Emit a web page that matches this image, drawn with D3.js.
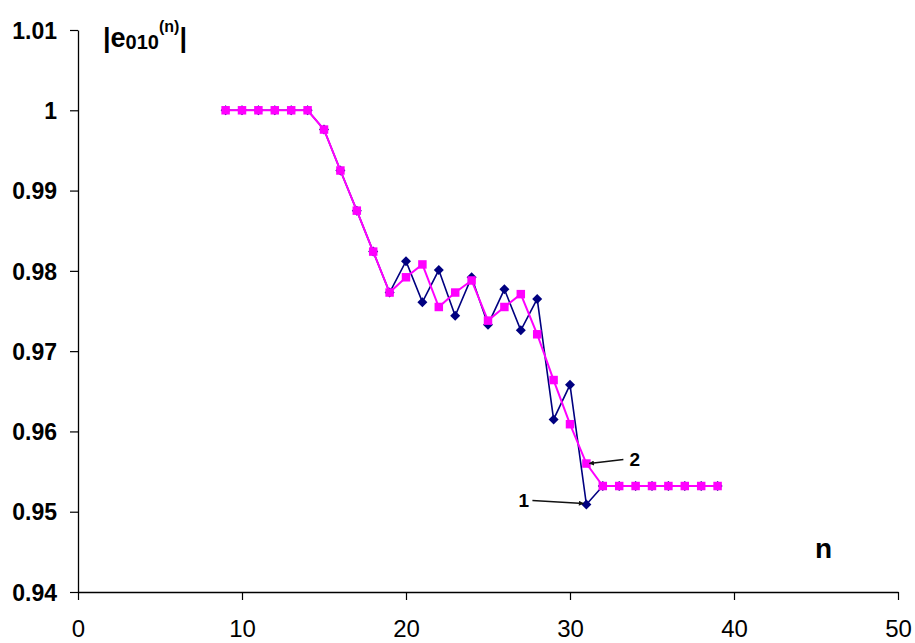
<!DOCTYPE html>
<html>
<head>
<meta charset="utf-8">
<script src="https://cdn.jsdelivr.net/npm/d3@7"></script>
<style>
  html, body { margin: 0; padding: 0; background: #fff; }
  svg { display: block; font-family: "Liberation Sans", Arial, sans-serif; }
</style>
</head>
<body>
<svg id="chart" width="915" height="643"></svg>
<script>
// Iteration index n
const nValues = [9, 10, 11, 12, 13, 14, 15, 16, 17, 18, 19, 20, 21, 22, 23, 24, 25, 26, 27, 28, 29, 30, 31, 32, 33, 34, 35, 36, 37, 38, 39];
// Curve 1 (navy diamonds)
const series1 = [1.0000, 1.0000, 1.0000, 1.0000, 1.0000, 1.0000, 0.9976, 0.9925, 0.9875, 0.9824, 0.9773, 0.9812, 0.9761, 0.9801, 0.9744, 0.9792, 0.9733, 0.9777, 0.9726, 0.9765, 0.9615, 0.9658, 0.9509, 0.9532, 0.9532, 0.9532, 0.9532, 0.9532, 0.9532, 0.9532, 0.9532];
// Curve 2 (magenta squares)
const series2 = [1.0000, 1.0000, 1.0000, 1.0000, 1.0000, 1.0000, 0.9976, 0.9925, 0.9875, 0.9824, 0.9773, 0.9792, 0.9808, 0.9755, 0.9773, 0.9788, 0.9738, 0.9755, 0.9771, 0.9721, 0.9664, 0.9609, 0.9560, 0.9532, 0.9532, 0.9532, 0.9532, 0.9532, 0.9532, 0.9532, 0.9532];
// Axis ticks
const xTicks = [0, 10, 20, 30, 40, 50];
const yTicks = [0.94, 0.95, 0.96, 0.97, 0.98, 0.99, 1.00, 1.01];
const yTickLabels = ["0.94", "0.95", "0.96", "0.97", "0.98", "0.99", "1", "1.01"];

const svg = d3.select("#chart");
const x = d3.scaleLinear().domain([0, 50]).range([78, 898]);
const y = d3.scaleLinear().domain([0.94, 1.01]).range([592, 30]);

// y axis
const yAxis = d3.axisLeft(y)
  .tickValues(yTicks)
  .tickSize(8)
  .tickSizeOuter(0)
  .tickPadding(13)
  .tickFormat((d, i) => yTickLabels[i]);
const gy = svg.append("g").attr("transform", `translate(${x(0)},0)`).call(yAxis);
gy.select(".domain").attr("stroke", "#000").attr("stroke-width", 1.3);
gy.selectAll(".tick line").attr("stroke", "#000").attr("stroke-width", 1.2);
gy.selectAll(".tick text")
  .attr("fill", "#000")
  .style("font-size", "23px")
  .style("font-weight", "bold")
  .attr("dy", "0.36em");

// x axis
const xAxis = d3.axisBottom(x)
  .tickValues(xTicks)
  .tickSize(8)
  .tickSizeOuter(0)
  .tickFormat(d3.format("d"));
const gx = svg.append("g").attr("transform", `translate(0,${y(0.94)})`).call(xAxis);
gx.select(".domain").attr("stroke", "#000").attr("stroke-width", 1.3);
gx.selectAll(".tick line").attr("stroke", "#000").attr("stroke-width", 1.2);
gx.selectAll(".tick text")
  .attr("fill", "#000")
  .attr("y", 45)
  .attr("dy", 0)
  .style("font-size", "24px");

// lines
const pts1 = nValues.map((n, i) => [n, series1[i]]);
const pts2 = nValues.map((n, i) => [n, series2[i]]);
const line = d3.line().x(d => x(d[0])).y(d => y(d[1]));

svg.append("path").datum(pts1)
  .attr("d", line).attr("fill", "none")
  .attr("stroke", "#000080").attr("stroke-width", 1.6);

svg.append("g").selectAll("path").data(pts1).join("path")
  .attr("d", d3.symbol(d3.symbolSquare, 50)())
  .attr("transform", d => `translate(${x(d[0])},${y(d[1])}) rotate(45)`)
  .attr("fill", "#000080");

svg.append("path").datum(pts2)
  .attr("d", line).attr("fill", "none")
  .attr("stroke", "#FF00FF").attr("stroke-width", 2);

svg.append("g").selectAll("path").data(pts2).join("path")
  .attr("d", d3.symbol(d3.symbolSquare, 72)())
  .attr("transform", d => `translate(${x(d[0])},${y(d[1])})`)
  .attr("fill", "#FF00FF");

// arrow annotations
const defs = svg.append("defs");
defs.append("marker")
  .attr("id", "arrowhead")
  .attr("viewBox", "0 0 10 10")
  .attr("refX", 9).attr("refY", 5)
  .attr("markerWidth", 7).attr("markerHeight", 5)
  .attr("markerUnits", "userSpaceOnUse")
  .attr("orient", "auto")
  .append("path").attr("d", "M0,0 L10,5 L0,10 Z").attr("fill", "#111");

const iAnn = nValues.indexOf(31);
// label 2 -> curve 2
svg.append("line")
  .attr("x1", x(31) + 37).attr("y1", y(series2[iAnn]) - 4)
  .attr("x2", x(31) + 3).attr("y2", y(series2[iAnn]))
  .attr("stroke", "#111").attr("stroke-width", 1.6)
  .attr("marker-end", "url(#arrowhead)");
svg.append("text")
  .attr("x", x(31) + 43).attr("y", y(series2[iAnn]) + 2)
  .style("font-size", "19px").style("font-weight", "bold")
  .text("2");
// label 1 -> curve 1
svg.append("line")
  .attr("x1", x(31) - 54).attr("y1", y(series1[iAnn]) - 4)
  .attr("x2", x(31) - 3).attr("y2", y(series1[iAnn]) - 1)
  .attr("stroke", "#111").attr("stroke-width", 1.6)
  .attr("marker-end", "url(#arrowhead)");
svg.append("text")
  .attr("x", x(31) - 68).attr("y", y(series1[iAnn]) + 3)
  .style("font-size", "19px").style("font-weight", "bold")
  .text("1");

// axis titles
const yTitle = svg.append("text")
  .attr("x", 103).attr("y", 47)
  .style("font-weight", "bold").style("font-size", "27px");
yTitle.append("tspan").text("|e");
yTitle.append("tspan").attr("dy", 2).style("font-size", "20px").text("010");
yTitle.append("tspan").attr("dy", -17).style("font-size", "16px").text("(n)");
yTitle.append("tspan").attr("dy", 15).style("font-size", "27px").text("|");

svg.append("text")
  .attr("x", 815).attr("y", 558)
  .style("font-weight", "bold").style("font-size", "28px")
  .text("n");
</script>
</body>
</html>
